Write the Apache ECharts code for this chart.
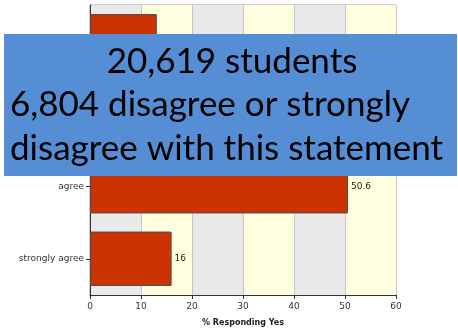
<!DOCTYPE html>
<html>
<head>
<meta charset="utf-8">
<script src="https://cdn.jsdelivr.net/npm/echarts@6/dist/echarts.min.js"></script>
<style>
  html, body { margin: 0; padding: 0; background: #fff; }
  #chart { width: 458px; height: 328px; }
</style>
</head>
<body>
<div id="chart"></div>
<script>
// data
const categories = ["strongly disagree", "disagree", "agree", "strongly agree"];
const percentYes = [13.1, 20.3, 50.6, 16];
const xTicks = [0, 10, 20, 30, 40, 50, 60];
const overlayLines = ["20,619 students", "6,804 disagree or strongly", "disagree with this statement"];

const chart = echarts.init(document.getElementById("chart"));
const smallFont = "DejaVu Sans, Verdana, sans-serif";

const option = {
  animation: false,
  grid: {
    left: 90, right: 62, top: 5, bottom: 33,
    outerBoundsMode: "none",
    containLabel: false,
    show: true, borderColor: "#9a9a9a", borderWidth: 1
  },
  xAxis: {
    type: "value",
    min: xTicks[0],
    max: xTicks[xTicks.length - 1],
    interval: 10,
    name: "% Responding Yes",
    nameLocation: "middle",
    nameGap: 24,
    nameTextStyle: { fontFamily: smallFont, fontSize: 8, fontWeight: "bold", color: "#222" },
    axisLine: { show: true, lineStyle: { color: "#333", width: 1 } },
    axisTick: { show: true, length: 4, lineStyle: { color: "#333" } },
    axisLabel: { fontFamily: smallFont, fontSize: 9, color: "#333", margin: 7 },
    splitLine: { show: true, lineStyle: { color: "#c4c4c4", width: 1 } },
    splitArea: { show: true, areaStyle: { color: ["#e9e9e9", "#ffffe0"] } }
  },
  yAxis: {
    type: "category",
    data: categories,
    inverse: true,
    axisLine: { show: true, lineStyle: { color: "#333", width: 1 } },
    axisTick: { show: true, alignWithLabel: true, length: 4, lineStyle: { color: "#333" } },
    axisLabel: { fontFamily: smallFont, fontSize: 9, color: "#333", margin: 6 },
    splitLine: { show: false }
  },
  series: [
    {
      type: "bar",
      data: percentYes,
      barCategoryGap: "25%",
      itemStyle: { color: "#cc3300", borderColor: "#4a4a4a", borderWidth: 1 },
      label: {
        show: true,
        position: "right",
        distance: 3,
        fontFamily: smallFont,
        fontSize: 9,
        color: "#222"
      }
    }
  ],
  graphic: [
    {
      type: "rect",
      left: 4, top: 34,
      shape: { width: 453, height: 142 },
      style: { fill: "#558ed5" },
      z: 100
    },
    {
      type: "text",
      x: 232, y: 62,
      style: {
        text: overlayLines[0], fill: "#000", align: "center", verticalAlign: "middle",
        font: "35px Lato, 'Open Sans', sans-serif"
      },
      z: 101
    },
    {
      type: "text",
      x: 10, y: 105,
      style: {
        text: overlayLines[1], fill: "#000", align: "left", verticalAlign: "middle",
        font: "35px Lato, 'Open Sans', sans-serif"
      },
      z: 101
    },
    {
      type: "text",
      x: 10, y: 149,
      style: {
        text: overlayLines[2], fill: "#000", align: "left", verticalAlign: "middle",
        font: "35px Lato, 'Open Sans', sans-serif"
      },
      z: 101
    }
  ]
};

chart.setOption(option);
window.addEventListener("resize", function () {
  chart.resize();
});
</script>
</body>
</html>
